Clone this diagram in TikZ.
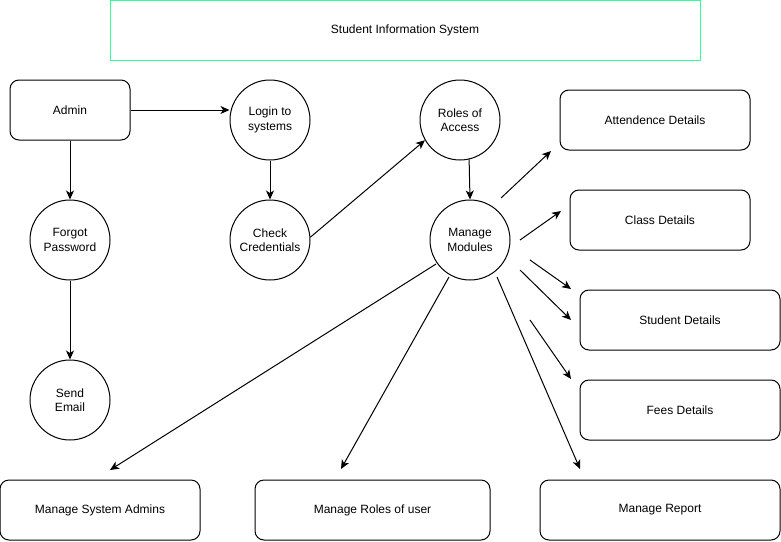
\documentclass[tikz,border=0pt]{standalone}
\usepackage{fontspec}
\setmainfont{Liberation Sans}
\usetikzlibrary{arrows.meta}
\definecolor{titlegreen}{RGB}{51,255,153}
\begin{document}
\begin{tikzpicture}[x=1pt,y=-1pt,
  every node/.style={font=\fontsize{12}{14.5}\selectfont, align=center, line width=1pt},
  proc/.style={draw, circle, minimum size=80pt, inner sep=0pt},
  box/.style={draw, rounded corners=9pt, minimum height=60pt, inner sep=0pt},
  arr/.style={line width=1pt, -{Stealth[length=9pt,width=8pt,inset=2.5pt]}}]
\useasboundingbox (0,0) rectangle (781,541);
% title
\node[draw=titlegreen, minimum width=590pt, minimum height=60pt, inner sep=0pt] (title) at (405,30) {Student Information System};
% nodes
\node[box, minimum width=120pt] (admin) at (70,110) {Admin};
\node[proc] (login) at (270,120) {Login to\\systems};
\node[proc] (forgot) at (70,240) {Forgot\\Password};
\node[proc] (check) at (270,240) {Check\\Credentials};
\node[proc] (roles) at (460,120) {Roles of\\Access};
\node[proc] (manage) at (470,240) {Manage\\Modules};
\node[proc] (send) at (70,400) {Send\\Email};
\node[box, minimum width=190pt] (att) at (655,120) {Attendence Details};
\node[box, minimum width=180pt] (class) at (660,220) {Class Details};
\node[box, minimum width=200pt] (student) at (680,320) {Student Details};
\node[box, minimum width=200pt] (fees) at (680,410) {Fees Details};
\node[box, minimum width=200pt] (sysadm) at (100,510) {Manage System Admins};
\node[box, minimum width=235pt] (roleuser) at (372.5,510) {Manage Roles of user};
\node[box, minimum width=240pt] (report) at (660,510) {Manage Report};
% free-end coordinates
\coordinate (a1s) at (501,198); \coordinate (a1e) at (551,151);
\coordinate (a2s) at (520,240); \coordinate (a2e) at (561,211);
\coordinate (a3s) at (530,260); \coordinate (a3e) at (571,289);
\coordinate (a4s) at (520,270); \coordinate (a4e) at (571,320);
\coordinate (a5s) at (530,320); \coordinate (a5e) at (571,379);
\coordinate (b1s) at (436,264); \coordinate (b1e) at (110,470);
\coordinate (b2s) at (449,277); \coordinate (b2e) at (341,469);
\coordinate (b3s) at (497,277); \coordinate (b3e) at (580,469);
% connectors
\draw[arr] (admin.east) -- (admin.east -| login.west);
\draw[arr] (admin.south) -- (forgot.north);
\draw[arr] (login.south) -- (check.north);
\draw[arr] (check.4) -- (roles.210);
\draw[arr] (roles.-77) -- (manage.north);
\draw[arr] (forgot.south) -- (send.north);
\draw[arr] (a1s) -- (a1e);
\draw[arr] (a2s) -- (a2e);
\draw[arr] (a3s) -- (a3e);
\draw[arr] (a4s) -- (a4e);
\draw[arr] (a5s) -- (a5e);
\draw[arr] (b1s) -- (b1e);
\draw[arr] (b2s) -- (b2e);
\draw[arr] (b3s) -- (b3e);
\end{tikzpicture}
\end{document}
